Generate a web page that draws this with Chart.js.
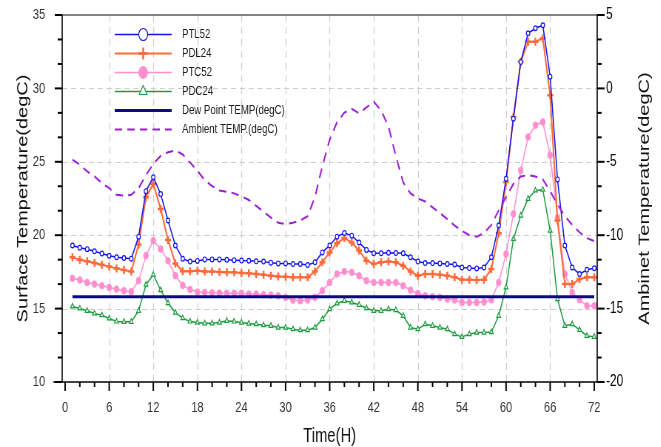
<!DOCTYPE html>
<html>
<head>
<meta charset="utf-8">
<script src="https://cdn.jsdelivr.net/npm/chart.js@4.4.1/dist/chart.umd.min.js"></script>
<style>
  html, body { margin: 0; padding: 0; background: #fff; overflow: hidden; }
  #wrap { width: 661px; height: 447px; overflow: hidden; }
  /* the figure is laid out on a wider canvas and narrowed to 661px */
  #c { display: block; transform: scaleX(0.74); transform-origin: 0 0; }
</style>
</head>
<body>
<div id="wrap"><canvas id="c" width="893" height="447"></canvas></div>
<script>
// Hourly readings, hours 1..72
const hours = [1,2,3,4,5,6,7,8,9,10,11,12,13,14,15,16,17,18,19,20,21,22,23,24,
  25,26,27,28,29,30,31,32,33,34,35,36,37,38,39,40,41,42,43,44,45,46,47,48,
  49,50,51,52,53,54,55,56,57,58,59,60,61,62,63,64,65,66,67,68,69,70,71,72];

// Surface temperatures (degC, left axis)
const ptl52 = [19.3,19.15,19.05,18.9,18.75,18.6,18.5,18.45,18.4,19.9,
  23.0,23.95,22.8,21.0,19.3,18.4,18.2,18.25,18.35,18.35,
  18.35,18.33,18.3,18.27,18.26,18.22,18.2,18.13,18.08,18.08,
  18.04,18.04,17.97,18.15,18.83,19.3,19.9,20.15,19.97,19.5,
  19.0,18.77,18.77,18.8,18.79,18.77,18.5,18.2,18.1,18.1,
  18.08,18.04,18.0,17.8,17.76,17.74,17.8,18.5,20.66,23.85,
  27.94,31.8,33.75,34.1,34.3,30.8,23.8,19.3,17.8,17.35,17.65,17.75];

const pdl24 = [18.49,18.33,18.22,18.1,17.99,17.86,17.74,17.63,17.53,19.36,
  22.59,23.5,21.79,19.68,18.08,17.55,17.55,17.58,17.53,17.53,
  17.5,17.47,17.47,17.42,17.4,17.36,17.31,17.24,17.19,17.17,
  17.13,17.13,17.13,17.53,18.15,18.83,19.45,19.81,19.51,18.95,
  18.26,18.04,18.15,18.2,18.15,17.92,17.53,17.24,17.36,17.36,
  17.31,17.24,17.13,16.97,16.97,16.95,16.97,17.7,20.13,23.62,
  28.05,31.81,33.18,33.18,33.41,29.54,21.0,16.67,16.67,17.01,17.13,17.13];

const ptc52 = [17.06,16.95,16.78,16.67,16.56,16.44,16.33,16.22,16.15,16.9,
  18.6,19.63,19.06,18.26,17.24,16.58,16.3,16.13,16.1,16.08,
  16.06,16.05,16.05,16.05,15.99,15.99,15.94,15.92,15.87,15.76,
  15.58,15.53,15.58,15.76,16.22,16.78,17.36,17.53,17.47,17.24,
  16.9,16.78,16.78,16.78,16.78,16.56,16.26,16.03,15.87,15.81,
  15.76,15.65,15.58,15.42,15.42,15.42,15.45,15.6,16.78,18.72,
  21.45,24.41,26.69,27.49,27.71,25.44,21.2,17.36,16.1,15.6,15.19,15.19];

const pdc24 = [15.15,15.01,14.85,14.67,14.55,14.33,14.12,14.1,14.1,14.85,
  16.63,17.31,16.26,15.37,14.73,14.35,14.12,14.05,14.0,14.0,
  14.05,14.17,14.12,14.05,13.98,13.94,13.87,13.83,13.71,13.71,
  13.6,13.53,13.53,13.71,14.28,14.96,15.35,15.53,15.42,15.26,
  15.03,14.85,14.85,14.96,14.9,14.51,13.71,13.6,13.94,13.83,
  13.71,13.6,13.26,13.07,13.26,13.37,13.37,13.4,14.51,16.45,
  19.75,21.34,22.48,23.05,23.1,20.31,15.65,13.83,13.94,13.55,13.14,13.08];

// Dew point (degC, left axis), constant over the run
const dewHours = [1, 72];
const dewPoint = [15.8, 15.8];

// Ambient temperature (degC, right axis)
const ambient = [-4.85,-5.2,-5.65,-6.0,-6.45,-6.8,-7.25,-7.3,-7.25,-6.8,
  -5.9,-5.15,-4.6,-4.35,-4.22,-4.5,-5.05,-5.6,-6.25,-6.65,
  -6.95,-7.05,-7.15,-7.35,-7.6,-8.0,-8.4,-8.8,-9.15,-9.25,
  -9.15,-9.0,-8.7,-7.4,-5.3,-3.5,-2.3,-1.65,-1.4,-1.7,
  -1.3,-0.9,-1.5,-2.6,-4.6,-6.4,-7.15,-7.5,-7.7,-8.1,
  -8.5,-8.9,-9.35,-9.7,-10.0,-10.1,-9.85,-9.3,-8.3,-7.4,
  -6.5,-6.0,-5.9,-6.0,-6.2,-7.0,-7.9,-8.7,-9.3,-9.8,-10.2,-10.4];

// Axis tick labels
const xTicks = [0,6,12,18,24,30,36,42,48,54,60,66,72];
const leftTicks = [10,15,20,25,30,35];
const rightTicks = [-20,-15,-10,-5,0,5];

const FONT = 'Arial, "Liberation Sans", Helvetica, sans-serif';
Chart.defaults.font.family = FONT;

const toPts = (xs, ys) => xs.map((h, i) => ({ x: h, y: ys[i] }));

const sDew = { label: 'Dew Point TEMP(degC)', data: toPts(dewHours, dewPoint), yAxisID: 'y',
  borderColor: '#0b0b7d', borderWidth: 3, pointRadius: 0 };
const sAmb = { label: 'Ambient TEMP.(degC)', data: toPts(hours, ambient), yAxisID: 'y1',
  borderColor: '#9a1fd4', borderWidth: 2, borderDash: [10, 7], pointRadius: 0 };
const sPTL = { label: 'PTL52', data: toPts(hours, ptl52), yAxisID: 'y',
  borderColor: '#1414f0', borderWidth: 1.5, pointStyle: 'circle', pointRadius: 2.4,
  pointBorderColor: '#1414f0', pointBackgroundColor: '#ffffff', pointBorderWidth: 1.2, legendRadius: 6 };
const sPDL = { label: 'PDL24', data: toPts(hours, pdl24), yAxisID: 'y',
  borderColor: '#ff6a3a', borderWidth: 2, pointStyle: 'cross', pointRadius: 4,
  pointBorderColor: '#ff6a3a', pointBackgroundColor: '#ff6a3a', pointBorderWidth: 2.5, legendRadius: 6 };
const sPTC = { label: 'PTC52', data: toPts(hours, ptc52), yAxisID: 'y',
  borderColor: '#ff8fcf', borderWidth: 1.5, pointStyle: 'circle', pointRadius: 3.3,
  pointBorderColor: '#ff8fcf', pointBackgroundColor: '#ff8fcf', pointBorderWidth: 1, legendRadius: 6 };
const sPDC = { label: 'PDC24', data: toPts(hours, pdc24), yAxisID: 'y',
  borderColor: '#1e9b40', borderWidth: 1.5, pointStyle: 'triangle', pointRadius: 3,
  pointBorderColor: '#1e9b40', pointBackgroundColor: '#ffffff', pointBorderWidth: 1.2, legendRadius: 6 };

const legendOrder = [sPTL, sPDL, sPTC, sPDC, sDew, sAmb];

function minorSteps(majors, parts) {
  const out = [];
  for (let i = 0; i < majors.length - 1; i++) {
    const step = (majors[i + 1] - majors[i]) / parts;
    for (let k = 1; k < parts; k++) out.push(majors[i] + k * step);
  }
  return out;
}

function seg(ctx, x1, y1, x2, y2) {
  ctx.beginPath(); ctx.moveTo(x1, y1); ctx.lineTo(x2, y2); ctx.stroke();
}

// keep the vertical axes from reserving extra room above and below the plot
function fitVertical(width) {
  return s => { s.width = width; s.paddingTop = 0; s.paddingBottom = 0; };
}

// Dashed grid, framed axes with major/minor tick marks, legend box and right title
const decor = {
  id: 'decor',
  beforeDatasetsDraw(chart) {
    const { ctx, chartArea: a, scales: { x, y } } = chart;
    ctx.save();
    ctx.strokeStyle = '#cdcdcd';
    ctx.lineWidth = 1.2;
    ctx.setLineDash([7, 5]);
    xTicks.filter(v => v > 0 && v < 72).forEach(v => {
      const px = Math.round(x.getPixelForValue(v)) + 0.5;
      seg(ctx, px, a.top, px, a.bottom);
    });
    leftTicks.filter(v => v > 10 && v < 35).forEach(v => {
      const py = Math.round(y.getPixelForValue(v)) + 0.5;
      seg(ctx, a.left, py, a.right, py);
    });
    ctx.restore();
  },
  afterDatasetsDraw(chart) {
    const { ctx, chartArea: a, scales: { x, y, y1 } } = chart;
    ctx.save();
    ctx.setLineDash([]);
    // top frame
    ctx.strokeStyle = '#5a5a5a'; ctx.lineWidth = 1.6;
    seg(ctx, a.left, a.top, a.right, a.top);
    // axis lines
    ctx.strokeStyle = '#000'; ctx.lineWidth = 1.6;
    seg(ctx, a.left, a.top, a.left, a.bottom);
    seg(ctx, a.right, a.top, a.right, a.bottom);
    seg(ctx, a.left - 12, a.bottom, a.right + 10, a.bottom);
    // x ticks
    ctx.lineWidth = 2;
    xTicks.forEach(v => { const px = x.getPixelForValue(v); seg(ctx, px, a.bottom, px, a.bottom + 9); });
    minorSteps(xTicks, 3).forEach(v => { const px = x.getPixelForValue(v); seg(ctx, px, a.bottom, px, a.bottom + 5); });
    // left ticks
    ctx.lineWidth = 2;
    leftTicks.forEach(v => { const py = y.getPixelForValue(v); seg(ctx, a.left - 10, py, a.left, py); });
    minorSteps(leftTicks, 3).forEach(v => { const py = y.getPixelForValue(v); seg(ctx, a.left - 6, py, a.left, py); });
    // right ticks
    rightTicks.forEach(v => { const py = y1.getPixelForValue(v); seg(ctx, a.right, py, a.right + 10, py); });
    minorSteps(rightTicks, 3).forEach(v => { const py = y1.getPixelForValue(v); seg(ctx, a.right, py, a.right + 6, py); });

    // legend
    const rows = [34.5, 53.5, 72.5, 91.5, 110.5, 129.5];
    const lx1 = 155, lx2 = 232, mx = 193.5, tx = 246;
    legendOrder.forEach((ds, i) => {
      const ly = rows[i];
      ctx.save();
      ctx.strokeStyle = ds.borderColor;
      ctx.lineWidth = ds.borderWidth;
      ctx.setLineDash(ds.borderDash || []);
      seg(ctx, lx1, ly, lx2, ly);
      ctx.restore();
      if (ds.pointRadius > 0) {
        ctx.save();
        ctx.fillStyle = ds.pointBackgroundColor;
        ctx.strokeStyle = ds.pointBorderColor;
        ctx.lineWidth = ds.pointBorderWidth;
        Chart.helpers.drawPoint(ctx, { pointStyle: ds.pointStyle, radius: ds.legendRadius,
          rotation: 0, borderWidth: ds.pointBorderWidth }, mx, ly);
        ctx.restore();
      }
      ctx.fillStyle = '#1a1a1a';
      ctx.font = '13px ' + FONT;
      ctx.textAlign = 'left';
      ctx.textBaseline = 'middle';
      ctx.fillText(ds.label, tx, ly);
    });

    // right axis title, reading bottom to top
    ctx.save();
    ctx.translate(871.5, (a.top + a.bottom) / 2);
    ctx.rotate(-Math.PI / 2);
    ctx.fillStyle = '#111';
    ctx.font = '20px ' + FONT;
    ctx.textAlign = 'center';
    ctx.textBaseline = 'middle';
    ctx.fillText('Ambinet Temperature(degC)', 0, 0);
    ctx.restore();
    ctx.restore();
  }
};

new Chart(document.getElementById('c'), {
  type: 'line',
  data: { datasets: [sDew, sAmb, sPTL, sPDL, sPTC, sPDC] },
  options: {
    responsive: false,
    devicePixelRatio: 1,
    animation: false,
    layout: { padding: { top: 15, left: 0, right: 0, bottom: 0 } },
    elements: { line: { tension: 0, fill: false } },
    plugins: { legend: { display: false }, tooltip: { enabled: false } },
    scales: {
      x: {
        type: 'linear', position: 'bottom', min: -0.4, max: 72.4,
        afterBuildTicks: s => { s.ticks = xTicks.map(v => ({ value: v })); },
        afterFit: s => { s.height = 65; s.paddingLeft = 0; s.paddingRight = 0; },
        grid: { display: false, drawTicks: false },
        border: { display: false },
        ticks: { autoSkip: false, maxRotation: 0, padding: 17, color: '#333',
          font: { size: 15 }, callback: v => String(v) },
        title: { display: true, text: 'Time(H)', color: '#111',
          font: { size: 20, lineHeight: 1.1 }, padding: { top: 0, bottom: 0 } }
      },
      y: {
        type: 'linear', position: 'left', min: 10, max: 35,
        afterBuildTicks: s => { s.ticks = leftTicks.map(v => ({ value: v })); },
        afterFit: fitVertical(84),
        grid: { display: false, drawTicks: false },
        border: { display: false },
        ticks: { padding: 23, color: '#333', font: { size: 15 }, callback: v => String(v) },
        title: { display: true, text: 'Surface Temperature(degC)', color: '#111',
          font: { size: 20, lineHeight: 1.2 }, padding: { top: 19, bottom: 0 } }
      },
      y1: {
        type: 'linear', position: 'right', min: -20, max: 5,
        afterBuildTicks: s => { s.ticks = rightTicks.map(v => ({ value: v })); },
        afterFit: fitVertical(86),
        grid: { display: false, drawTicks: false },
        border: { display: false },
        ticks: { padding: 12, color: '#000', font: { size: 16 }, callback: v => String(v) }
      }
    }
  },
  plugins: [decor]
});
</script>
</body>
</html>
